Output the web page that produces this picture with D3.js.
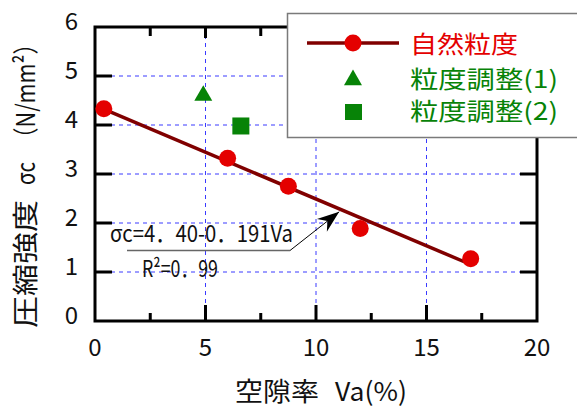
<!DOCTYPE html>
<html>
<head>
<meta charset="utf-8">
<script src="https://cdn.jsdelivr.net/npm/d3@7"></script>
<style>
  html, body { margin: 0; padding: 0; background: #fff; }
  svg { display: block; font-family: "Noto Sans CJK JP", "Noto Sans", sans-serif; }
</style>
</head>
<body>
<svg id="chart" width="577" height="410"></svg>
<script>
// Void ratio (%) vs. compressive strength (N/mm2)
const naturalVa = [0.4, 6.0, 8.75, 12.0, 17.0];
const naturalSc = [4.33, 3.32, 2.75, 1.89, 1.27];
const adjusted1Va = [4.9];
const adjusted1Sc = [4.6];
const adjusted2Va = [6.6];
const adjusted2Sc = [3.98];

// fitted line  σc = 4.40 - 0.191 Va
const fitIntercept = 4.40;
const fitSlope = -0.191;
const fitRange = [0.4, 17.0];

const xTicks = [0, 5, 10, 15, 20];
const xMinorTicks = [2.5, 7.5, 12.5, 17.5];
const yTicks = [0, 1, 2, 3, 4, 5, 6];
const gridX = [5, 10, 15];
const gridY = [1, 2, 3, 4, 5];

const legendLabels = ["自然粒度", "粒度調整(1)", "粒度調整(2)"];
const xTitleParts = ["空隙率", "Va(%)"];
const yTitleParts = ["圧縮強度", "σc", "（N/mm²）"];
const eqText = "σc=4．40-0．191Va";
const r2Text = "R²=0．99";

const RED = "#e40000", DARKRED = "#800000", GREEN = "#078307", GRID = "#3a3aff";

const svg = d3.select("#chart");
const x = d3.scaleLinear().domain([0, 20]).range([95, 537]);
const y = d3.scaleLinear().domain([0, 6]).range([321, 27]);

// grid
svg.append("g").selectAll("line").data(gridX).join("line")
  .attr("x1", d => x(d)).attr("x2", d => x(d))
  .attr("y1", y(6)).attr("y2", y(0))
  .attr("stroke", GRID).attr("stroke-width", 1).attr("stroke-dasharray", "4,4");
svg.append("g").selectAll("line").data(gridY).join("line")
  .attr("x1", x(0)).attr("x2", x(20))
  .attr("y1", d => y(d)).attr("y2", d => y(d))
  .attr("stroke", GRID).attr("stroke-width", 1).attr("stroke-dasharray", "4,4");

// inward ticks on all four sides
const axes = svg.append("g").attr("stroke", "#000").attr("stroke-width", 3);
xTicks.slice(1, -1).forEach(v => {
  axes.append("line").attr("x1", x(v)).attr("x2", x(v)).attr("y1", y(0)).attr("y2", y(0) - 16);
  axes.append("line").attr("x1", x(v)).attr("x2", x(v)).attr("y1", y(6)).attr("y2", y(6) + 11);
});
xMinorTicks.forEach(v => {
  axes.append("line").attr("x1", x(v)).attr("x2", x(v)).attr("y1", y(0)).attr("y2", y(0) - 8);
  axes.append("line").attr("x1", x(v)).attr("x2", x(v)).attr("y1", y(6)).attr("y2", y(6) + 9);
});
yTicks.slice(1, -1).forEach(v => {
  axes.append("line").attr("x1", x(0)).attr("x2", x(0) + 17).attr("y1", y(v)).attr("y2", y(v));
  axes.append("line").attr("x1", x(20)).attr("x2", x(20) - 17).attr("y1", y(v)).attr("y2", y(v));
});
// frame
axes.append("rect").attr("x", x(0)).attr("y", y(6))
  .attr("width", x(20) - x(0)).attr("height", y(0) - y(6))
  .attr("fill", "none");

// tick labels
svg.append("g").selectAll("text").data(xTicks).join("text")
  .attr("x", d => x(d)).attr("y", 356)
  .attr("text-anchor", "middle").attr("font-size", 24).attr("fill", "#111")
  .text(d => d);
svg.append("g").selectAll("text").data(yTicks).join("text")
  .attr("x", 78).attr("y", d => y(d) + 3)
  .attr("text-anchor", "end").attr("font-size", 24).attr("fill", "#111")
  .text(d => d);

// axis titles
const xTitlePos = [[235, 84], [335, 72]];
xTitleParts.forEach((t, i) => {
  svg.append("text").attr("x", xTitlePos[i][0]).attr("y", 401)
    .attr("font-size", 26).attr("fill", "#111")
    .attr("textLength", xTitlePos[i][1]).attr("lengthAdjust", "spacingAndGlyphs")
    .text(t);
});
// rotated title: start position along the axis (from the bottom) and length
const yTitlePos = [[328, 128], [185, 23], [149, 116]];
yTitleParts.forEach((t, i) => {
  svg.append("text")
    .attr("transform", `translate(35,${yTitlePos[i][0]}) rotate(-90)`)
    .attr("font-size", 26).attr("fill", "#111")
    .attr("textLength", yTitlePos[i][1]).attr("lengthAdjust", "spacingAndGlyphs")
    .text(t);
});

// regression line
const fit = v => fitIntercept + fitSlope * v;
svg.append("line")
  .attr("x1", x(fitRange[0])).attr("y1", y(fit(fitRange[0])))
  .attr("x2", x(fitRange[1])).attr("y2", y(fit(fitRange[1])))
  .attr("stroke", DARKRED).attr("stroke-width", 3.5);

// natural grading points
svg.append("g").selectAll("circle").data(naturalVa).join("circle")
  .attr("cx", d => x(d)).attr("cy", (d, i) => y(naturalSc[i]))
  .attr("r", 8.5).attr("fill", RED);

// adjusted grading (1): triangles
const tri = d3.symbol().type(d3.symbolTriangle).size(140);
svg.append("g").selectAll("path").data(adjusted1Va).join("path")
  .attr("transform", (d, i) => `translate(${x(d)},${y(adjusted1Sc[i])})`)
  .attr("d", tri).attr("fill", GREEN);
// adjusted grading (2): squares
svg.append("g").selectAll("rect").data(adjusted2Va).join("rect")
  .attr("x", d => x(d) - 8.5).attr("y", (d, i) => y(adjusted2Sc[i]) - 8.5)
  .attr("width", 17).attr("height", 17).attr("fill", GREEN);

// equation annotation with leader and arrow
const ann = svg.append("g");
ann.append("text").attr("x", 110).attr("y", 242)
  .attr("font-size", 23).attr("fill", "#111")
  .attr("textLength", 183).attr("lengthAdjust", "spacingAndGlyphs")
  .text(eqText);
ann.append("text").attr("x", 142).attr("y", 277)
  .attr("font-size", 23).attr("fill", "#111")
  .attr("textLength", 76).attr("lengthAdjust", "spacingAndGlyphs")
  .text(r2Text);
ann.append("line").attr("x1", 127).attr("x2", 290).attr("y1", 250.5).attr("y2", 250.5)
  .attr("stroke", "#666").attr("stroke-width", 1.5);
const tipX = x(11.05), tipY = y(fit(11.05)) + 3;
const bx = 290, by = 250.5;
ann.append("line").attr("x1", bx).attr("y1", by).attr("x2", tipX).attr("y2", tipY)
  .attr("stroke", "#000").attr("stroke-width", 1);
{
  const ang = Math.atan2(tipY - by, tipX - bx);
  const L = 22, W = 8, N = 15;
  const c = Math.cos(ang), s = Math.sin(ang);
  const pt = (a, b) => [tipX - a * c - b * s, tipY - a * s + b * c];
  const pts = [pt(0, 0), pt(L, W), pt(N, 0), pt(L, -W)];
  ann.append("path").attr("d", "M" + pts.map(p => p.join(",")).join("L") + "Z").attr("fill", "#000");
}

// legend
const lg = svg.append("g");
lg.append("rect").attr("x", 287.5).attr("y", 13.5).attr("width", 300).attr("height", 124)
  .attr("fill", "#fff").attr("stroke", "#7a7a7a").attr("stroke-width", 1.5);
lg.append("line").attr("x1", 307).attr("x2", 399).attr("y1", 43).attr("y2", 43)
  .attr("stroke", DARKRED).attr("stroke-width", 3.5);
lg.append("circle").attr("cx", 353).attr("cy", 43).attr("r", 8.5).attr("fill", RED);
lg.append("path").attr("transform", "translate(353,80)").attr("d", tri).attr("fill", GREEN);
lg.append("rect").attr("x", 345).attr("y", 104).attr("width", 17).attr("height", 16).attr("fill", GREEN);
const legendY = [53, 88, 120];
const legendW = [108, 148, 148];
const legendC = [RED, GREEN, GREEN];
legendLabels.forEach((t, i) => {
  lg.append("text").attr("x", 410).attr("y", legendY[i])
    .attr("font-size", 24).attr("fill", legendC[i])
    .attr("textLength", legendW[i]).attr("lengthAdjust", "spacingAndGlyphs")
    .text(t);
});
</script>
</body>
</html>
